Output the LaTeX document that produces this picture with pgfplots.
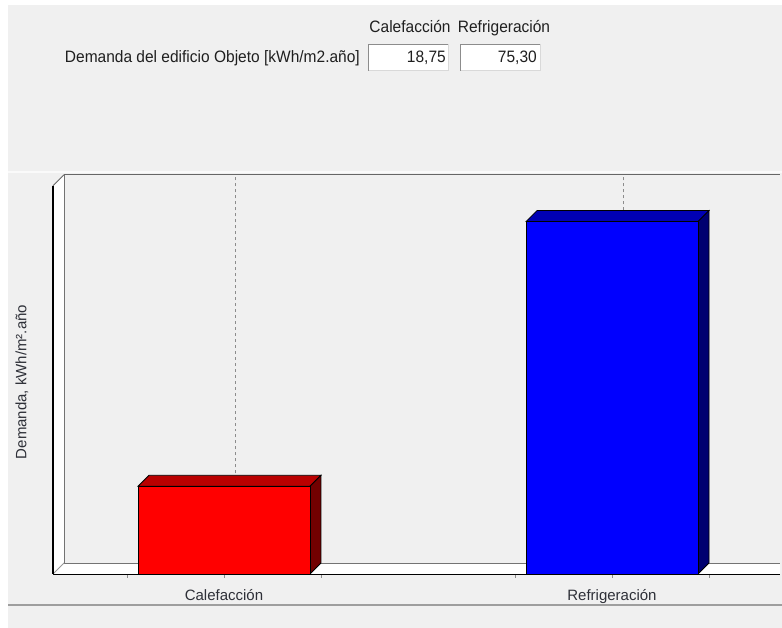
\documentclass[border=0pt]{standalone}
\usepackage{pgfplots}
\pgfplotsset{compat=1.18}
\usepackage{fontspec}
\setmainfont{Liberation Sans}
\newfontfamily\hdr[FakeStretch=0.94]{Liberation Sans}
\definecolor{bgc}{HTML}{F0F0F0}
\definecolor{lblc}{HTML}{2E3038}
\definecolor{redtop}{HTML}{BA0000}
\definecolor{redside}{HTML}{720000}
\definecolor{bluetop}{HTML}{0000B4}
\definecolor{blueside}{HTML}{000070}
\begin{document}
\begin{tikzpicture}
\useasboundingbox (0,0) rectangle (782bp,628bp);
\fill[white] (0,0) rectangle (782bp,628bp);
\fill[bgc] (8bp,0) rectangle (782bp,623bp);
\draw[white!70!bgc, line width=1.2bp] (8bp,456bp) -- (782bp,456bp);
\draw[black!38, line width=1.3bp] (8bp,23bp) -- (782bp,23bp);
% header
\node[anchor=base, inner sep=0pt, text=black!88] at (410bp,595bp) {\hdr\fontsize{16.5bp}{19bp}\selectfont Calefacción};
\node[anchor=base, inner sep=0pt, text=black!88] at (504bp,595bp) {\hdr\fontsize{16.5bp}{19bp}\selectfont Refrigeración};
\node[anchor=base east, inner sep=0pt, text=black!88] at (360bp,565bp) {\hdr\fontsize{16.5bp}{19bp}\selectfont Demanda del edificio Objeto [kWh/m2.año]};
\fill[white] (368bp,557bp) rectangle (449bp,584bp);
\draw[black!45, line width=1bp] (368.5bp,557bp) -- (368.5bp,583.5bp) -- (449bp,583.5bp);
\draw[black!15, line width=1bp] (368.5bp,557.5bp) -- (448.5bp,557.5bp) -- (448.5bp,583.5bp);
\fill[white] (460bp,557bp) rectangle (541bp,584bp);
\draw[black!45, line width=1bp] (460.5bp,557bp) -- (460.5bp,583.5bp) -- (541bp,583.5bp);
\draw[black!15, line width=1bp] (460.5bp,557.5bp) -- (540.5bp,557.5bp) -- (540.5bp,583.5bp);
\node[anchor=base east, inner sep=0pt, text=black!88] at (446bp,565bp) {\hdr\fontsize{16.5bp}{19bp}\selectfont 18,75};
\node[anchor=base east, inner sep=0pt, text=black!88] at (537bp,565bp) {\hdr\fontsize{16.5bp}{19bp}\selectfont 75,30};
% y label
\node[rotate=90, inner sep=0pt, text=lblc] at (22bp,246bp) {\fontsize{15bp}{18bp}\selectfont Demanda, kWh/m².año};
\begin{axis}[
  at={(53bp,54bp)}, anchor=south west,
  scale only axis, width=727bp, height=399.2bp,
  xmin=-0.4407, xmax=1.4330, ymin=0, ymax=85.3,
  clip=false,
  axis x line=bottom, axis y line=none,
  x axis line style={-, line width=1.8bp, black},
  xtick={0,1}, xticklabels={Calefacción, Refrigeración},
  minor xtick={-0.25,0.25,0.75,1.25},
  tick align=outside, major tick length=4bp, minor tick length=4bp,
  tick style={black!45, line width=0.8bp},
  xticklabel style={font=\fontsize{15bp}{18bp}\selectfont, text=lblc, anchor=base, yshift=-23bp},
  ytick=\empty,
]
% walls
\addplot[fill=white, draw=none] coordinates {(-0.4407,0) (-0.4407,82.95) (-0.4123,85.3) (-0.4123,2.35)} -- cycle;
\addplot[fill=white, draw=none] coordinates {(-0.4407,0) (-0.4123,2.35) (1.4330,2.35) (1.4330,0)} -- cycle;
\addplot[draw=black!55, line width=0.9bp] coordinates {(-0.4123,2.35) (1.4330,2.35)};
\addplot[draw=black!55, line width=0.9bp] coordinates {(-0.4123,2.35) (-0.4123,85.3)};
\addplot[draw=black!60, line width=1.2bp] coordinates {(-0.4123,85.3) (1.4330,85.3)};
\addplot[draw=black!60, line width=0.9bp] coordinates {(-0.4407,82.95) (-0.4123,85.3)};
\addplot[draw=black!40, line width=0.8bp] coordinates {(-0.4407,0) (-0.4123,2.35)};
\addplot[draw=black, line width=1.8bp] coordinates {(-0.4407,0) (-0.4407,82.95)};
% grid
\addplot[draw=black!45, dashed, line width=0.7bp] coordinates {(0.0284,2.35) (0.0284,85.3)};
\addplot[draw=black!45, dashed, line width=0.7bp] coordinates {(1.0284,2.35) (1.0284,85.3)};
% Calefaccion bar 18.75
\addplot[fill=redtop, draw=black, line width=0.8bp] coordinates {(-0.2216,18.75) (-0.1932,21.10) (0.2500,21.10) (0.2216,18.75)} -- cycle;
\addplot[fill=redside, draw=black, line width=0.8bp] coordinates {(0.2216,0) (0.2216,18.75) (0.2500,21.10) (0.2500,2.35)} -- cycle;
\addplot[fill=red, draw=black, line width=0.8bp] coordinates {(-0.2216,0) (-0.2216,18.75) (0.2216,18.75) (0.2216,0)} -- cycle;
% Refrigeracion bar 75.30
\addplot[fill=bluetop, draw=black, line width=0.8bp] coordinates {(0.7784,75.30) (0.8068,77.65) (1.2500,77.65) (1.2216,75.30)} -- cycle;
\addplot[fill=blueside, draw=black, line width=0.8bp] coordinates {(1.2216,0) (1.2216,75.30) (1.2500,77.65) (1.2500,2.35)} -- cycle;
\addplot[fill=blue, draw=black, line width=0.8bp] coordinates {(0.7784,0) (0.7784,75.30) (1.2216,75.30) (1.2216,0)} -- cycle;
\end{axis}
\end{tikzpicture}
\end{document}
